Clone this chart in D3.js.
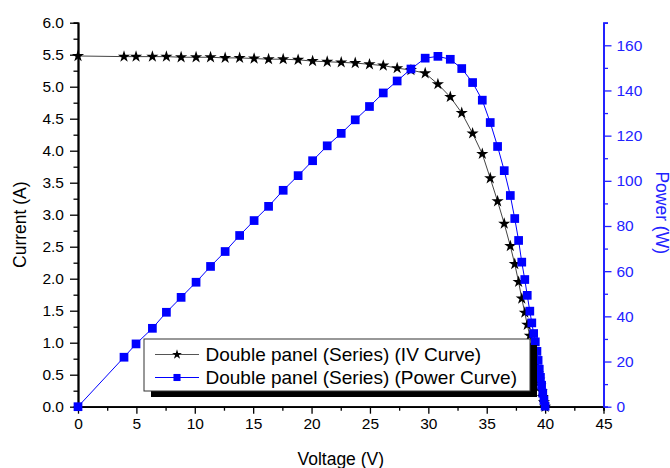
<!DOCTYPE html>
<html>
<head>
<meta charset="utf-8">
<script src="https://cdn.jsdelivr.net/npm/d3@7"></script>
<style>
  body { margin: 0; background: #fff; }
  svg { font-family: "Liberation Sans", Arial, sans-serif; }
</style>
</head>
<body>
<div id="chart"></div>
<script>
// Values
const voltage = [0, 3.94, 4.97, 6.37, 7.57, 8.83, 10.11, 11.35, 12.6, 13.84, 15.08, 16.32, 17.57, 18.85,
    20.09, 21.34, 22.54, 23.74, 24.96, 26.14, 27.33, 28.51, 29.73, 30.82, 31.88, 32.86, 33.79, 34.62,
    35.3, 35.93, 36.5, 37.02, 37.4, 37.73, 38.0, 38.26, 38.47, 38.69, 38.86, 39.02, 39.16,
    39.3, 39.4, 39.5, 39.6, 39.7, 39.8, 39.9, 40.0];
const current = [5.48, 5.47, 5.47, 5.47, 5.47, 5.46, 5.46, 5.46, 5.45, 5.45, 5.44, 5.43, 5.43, 5.42,
    5.40, 5.39, 5.38, 5.37, 5.35, 5.33, 5.29, 5.26, 5.21, 5.04, 4.84, 4.59, 4.27, 3.95,
    3.57, 3.21, 2.86, 2.51, 2.23, 1.95, 1.69, 1.47, 1.28, 1.11, 0.96, 0.84, 0.73,
    0.62, 0.52, 0.42, 0.33, 0.24, 0.15, 0.07, 0.0];
const power = [0, 21.9, 27.8, 34.7, 41.8, 48.4, 55.1, 62.1, 68.7, 75.8, 82.4, 88.7, 95.8, 102.3,
    108.9, 115.5, 121.0, 127.0, 132.9, 138.9, 144.2, 149.5, 154.3, 155.1, 153.8, 149.7, 143.5, 135.7,
    125.8, 115.2, 104.5, 93.5, 83.3, 73.6, 64.0, 56.3, 49.3, 42.3, 37.1, 32.4, 28.7,
    24.5, 20.5, 16.6, 13.0, 9.5, 6.0, 2.8, 0.2];

const xTicks = d3.range(0, 46, 5);
const yTicks = d3.range(0, 6.01, 0.5);
const pTicks = d3.range(0, 161, 20);
const seriesNames = ["Double panel (Series) (IV Curve)", "Double panel (Series) (Power Curve)"];

const blue = "#0000ff";
const axisBlue = "#2222ff";

const margin = { top: 22.7, right: 66.5, bottom: 61.3, left: 78 };
const width = 670 - margin.left - margin.right;
const height = 468 - margin.top - margin.bottom;

const svg = d3.select("#chart")
    .append("svg")
    .attr("width", 670)
    .attr("height", 468)
    .append("g")
    .attr("transform", `translate(${margin.left},${margin.top})`);

const xScale = d3.scaleLinear().domain([0, 45]).range([0, width]);
const yScale = d3.scaleLinear().domain([0, 6]).range([height, 0]);
const pScale = d3.scaleLinear().domain([0, 170]).range([height, 0]);

const points = voltage.map((v, i) => ({ v: v, i: current[i], p: power[i] }));

// minor ticks first, then the labelled axes
svg.append("g")
    .attr("transform", `translate(0,${height})`)
    .call(d3.axisBottom(xScale).tickValues(d3.range(2.5, 45, 5)).tickSize(4).tickFormat(""));
svg.append("g")
    .call(d3.axisLeft(yScale).tickValues(d3.range(0.25, 6, 0.5)).tickSize(4.5).tickFormat(""));
svg.append("g")
    .attr("class", "p-minor")
    .attr("transform", `translate(${width},0)`)
    .call(d3.axisRight(pScale).tickValues(d3.range(10, 171, 20)).tickSize(4.5).tickFormat(""));

svg.append("g")
    .attr("transform", `translate(0,${height})`)
    .call(d3.axisBottom(xScale).tickValues(xTicks).tickSize(7).tickSizeOuter(0).tickPadding(4));
svg.append("g")
    .call(d3.axisLeft(yScale).tickValues(yTicks).tickFormat(d3.format(".1f")).tickSize(8).tickSizeOuter(0).tickPadding(6));
svg.append("g")
    .attr("class", "p-axis")
    .attr("transform", `translate(${width},0)`)
    .call(d3.axisRight(pScale).tickValues(pTicks).tickSize(8).tickSizeOuter(0).tickPadding(5));

svg.selectAll(".domain").attr("stroke-width", 1.8);
svg.selectAll(".tick line").attr("stroke-width", 1.3);
svg.selectAll(".tick text").attr("font-size", 15.5).attr("font-family", "Liberation Sans, Arial, sans-serif");
svg.selectAll(".p-axis .domain, .p-axis .tick line, .p-minor .domain, .p-minor .tick line").attr("stroke", axisBlue);
svg.selectAll(".p-axis .tick text").attr("fill", axisBlue);

// axis titles
svg.append("text")
    .attr("x", xScale(22.5))
    .attr("y", height + 58.5)
    .attr("text-anchor", "middle")
    .attr("font-size", 17.5)
    .text("Voltage (V)");
svg.append("text")
    .attr("transform", `translate(${-52},${height / 2 + 10}) rotate(-90)`)
    .attr("text-anchor", "middle")
    .attr("font-size", 17.5)
    .text("Current (A)");
svg.append("text")
    .attr("transform", `translate(${width + 52},${height / 2 - 2}) rotate(90)`)
    .attr("text-anchor", "middle")
    .attr("font-size", 17.5)
    .attr("fill", axisBlue)
    .text("Power (W)");

// IV curve
const ivLine = d3.line().x((d) => xScale(d.v)).y((d) => yScale(d.i));
svg.append("path")
    .datum(points)
    .attr("fill", "none")
    .attr("stroke", "#444")
    .attr("stroke-width", 1)
    .attr("d", ivLine);
svg.selectAll(".star")
    .data(points)
    .enter()
    .append("path")
    .attr("class", "star")
    .attr("transform", (d) => `translate(${xScale(d.v)},${yScale(d.i)})`)
    .attr("d", d3.symbol(d3.symbolStar, 46))
    .attr("fill", "#000");

// Power curve
const pLine = d3.line().x((d) => xScale(d.v)).y((d) => pScale(d.p));
svg.append("path")
    .datum(points)
    .attr("fill", "none")
    .attr("stroke", blue)
    .attr("stroke-width", 1)
    .attr("d", pLine);
svg.selectAll(".sq")
    .data(points)
    .enter()
    .append("path")
    .attr("class", "sq")
    .attr("transform", (d) => `translate(${xScale(d.v)},${pScale(d.p)})`)
    .attr("d", d3.symbol(d3.symbolSquare, 76))
    .attr("fill", blue);

// Legend with drop shadow
const legend = svg.append("g").attr("transform", `translate(${144 - margin.left},${339 - margin.top})`);
legend.append("rect").attr("x", 7).attr("y", 6).attr("width", 386).attr("height", 52).attr("fill", "#000");
legend.append("rect").attr("x", 0).attr("y", 0).attr("width", 386).attr("height", 52)
    .attr("fill", "#fff").attr("stroke", "#333").attr("stroke-width", 1);

seriesNames.forEach((name, k) => {
    const cy = 15.5 + k * 23;
    legend.append("line")
        .attr("x1", 11).attr("x2", 55).attr("y1", cy).attr("y2", cy)
        .attr("stroke", k === 0 ? "#555" : blue).attr("stroke-width", 1);
    legend.append("path")
        .attr("transform", `translate(33,${cy})`)
        .attr("d", d3.symbol(k === 0 ? d3.symbolStar : d3.symbolSquare, k === 0 ? 30 : 50))
        .attr("fill", k === 0 ? "#000" : blue);
    legend.append("text")
        .attr("x", 61.5)
        .attr("y", cy + 6.8)
        .attr("font-size", 19)
        .text(name);
});
</script>
</body>
</html>
